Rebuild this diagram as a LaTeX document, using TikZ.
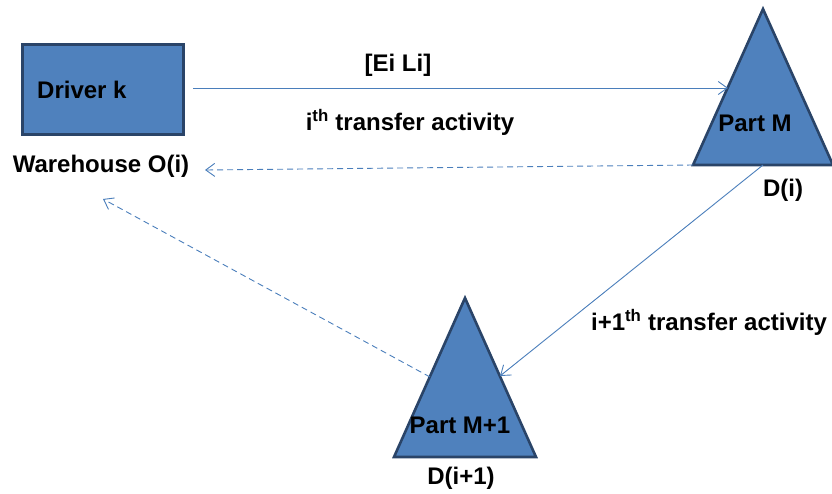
\documentclass[tikz,border=0pt]{standalone}
\usepackage{fontspec}
\setmainfont{Liberation Sans}
\usetikzlibrary{arrows.meta}
\definecolor{partfill}{HTML}{4F81BD}
\definecolor{partedge}{HTML}{2A4468}
\definecolor{linkblue}{HTML}{4A7EBB}
\tikzset{
  partshape/.style={fill=partfill, draw=partedge, line width=2.6pt, line join=miter},
  lbl/.style={font=\bfseries\fontsize{24}{28}\selectfont, inner sep=0pt, text=black},
  flow/.style={draw=linkblue, line width=0.9pt, -{Straight Barb[length=9pt,width=13pt,line width=0.9pt]}},
  back/.style={flow, dashed, dash pattern=on 6pt off 4pt}
}
\begin{document}
\begin{tikzpicture}[x=1pt,y=-1pt]
\useasboundingbox (0,0) rectangle (832,493);

% driver box
\node[partshape, minimum width=161pt, minimum height=90pt, anchor=north west, inner sep=0pt] (drv) at (21,43) {};
\node[lbl, anchor=west] (drvtxt) at (37,90) {Driver k};
\node[lbl] (wh) at (101,166) {Warehouse O(i)};

% part M
\coordinate (mtop) at (763,9);
\coordinate (mleft) at (693,165);
\coordinate (mright) at (833,165);
\coordinate (mbase) at (763,165);
\path[partshape] (mtop) -- (mright) -- (mleft) -- cycle;
\node[lbl] (mtxt) at (755,123) {Part M};
\node[lbl] (di) at (783,190) {D(i)};

% part M+1
\coordinate (ntop) at (465,298);
\coordinate (nleft) at (394,457);
\coordinate (nright) at (536,457);
\path[partshape] (ntop) -- (nright) -- (nleft) -- cycle;
\node[lbl] (ntxt) at (460,425) {Part M+1};
\node[lbl] (dii) at (461,478) {D(i+1)};

% connector ends
\coordinate (aS) at (193,88);
\coordinate (aE) at (728,88);
\coordinate (bE) at (205,170);
\coordinate (cS) at (430,377);
\coordinate (cE) at (103,199);
\coordinate (dE) at (500,376);

\draw[flow] (aS) -- (aE);
\draw[back] (mleft) -- (bE);
\draw[back] (cS) -- (cE);
\draw[flow] (mbase) -- (dE);

% labels
\node[lbl] (eili) at (398,65) {[Ei Li]};
\node[lbl] (ith) at (410,122) {i\textsuperscript{th} transfer activity};
\node[lbl] (i1th) at (709,322) {i+1\textsuperscript{th} transfer activity};
\end{tikzpicture}
\end{document}
